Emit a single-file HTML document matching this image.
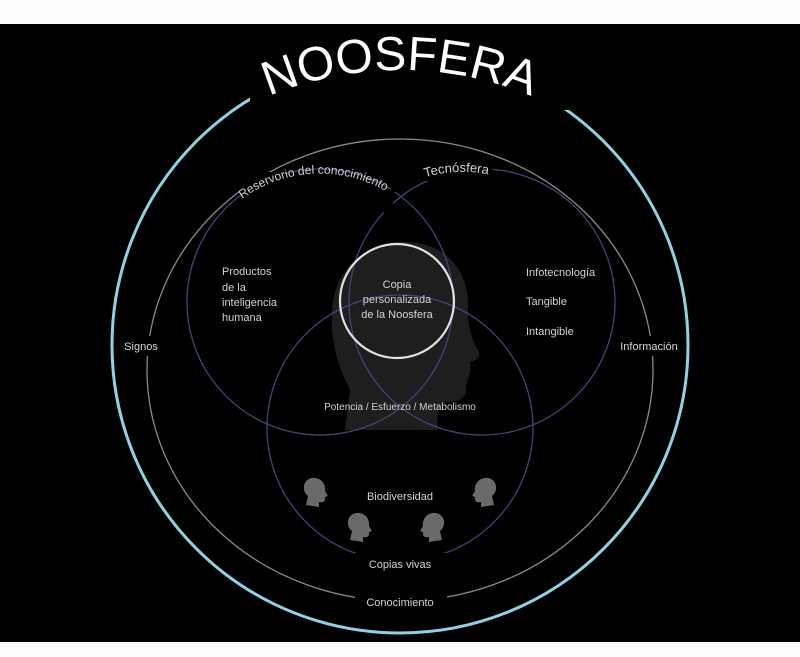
<!DOCTYPE html>
<html><head><meta charset="utf-8"><style>
html,body{margin:0;padding:0;background:#fff;}
svg{display:block;}
text{font-family:"Liberation Sans","DejaVu Sans",sans-serif;fill:#d4d4d4;}
</style></head><body>
<svg width="800" height="657" viewBox="0 0 800 657" xmlns="http://www.w3.org/2000/svg">
<rect x="0" y="0" width="800" height="657" fill="#fbfbfb"/>
<rect x="0" y="24" width="800" height="618" fill="#000"/>
<defs>
<path id="tarc" d="M 240 110 A 340 340 0 0 1 560 110"/>
<path id="rarc" d="M 215 225 A 133 133 0 0 1 425 225"/>
<path id="tarc2" d="M 405 185 A 133 133 0 0 1 520 185"/>
</defs>
<path d="M 345 430 L 350 390 C 340 370 330 345 332 310 C 335 265 370 240 410 242 C 450 245 470 275 468 310 C 468 325 470 335 478 350 C 482 358 476 360 470 362 C 472 372 468 378 466 385 C 468 395 462 402 450 402 C 440 402 436 410 438 430 Z" fill="#1e1e1e"/>
<ellipse cx="400" cy="345" rx="288" ry="288" fill="none" stroke="#8fd3e3" stroke-width="3"/>
<rect x="250" y="40" width="320" height="70" fill="#000"/>
<ellipse cx="400" cy="370" rx="253" ry="231" fill="none" stroke="#8a8a8a" stroke-width="1.3"/>
<circle cx="320" cy="302" r="133" fill="none" stroke="#4b3f78" stroke-width="1.3"/>
<circle cx="482" cy="302" r="133" fill="none" stroke="#4b3f78" stroke-width="1.3"/>
<circle cx="400" cy="428" r="133" fill="none" stroke="#4b3f78" stroke-width="1.3"/>
<circle cx="397" cy="301" r="57" fill="none" stroke="#e0e0e0" stroke-width="2.2"/>
<rect x="116" y="336" width="52" height="20" fill="#000"/>
<rect x="612" y="336" width="74" height="20" fill="#000"/>
<rect x="355" y="590" width="92" height="22" fill="#000"/>
<rect x="355" y="553" width="92" height="20" fill="#000"/>
<rect x="228" y="178" width="166" height="24" fill="#000" transform="rotate(8 311 190)"/>
<rect x="420" y="162" width="72" height="22" fill="#000" transform="rotate(6 456 173)"/>
<g fill="#6a6a6a">
<path d="M 306 505 L 308 496 C 302 492 302 480 312 478 C 320 477 326 483 325 491 L 328 496 L 325 497 C 326 502 322 503 319 502 L 319 507 Z"/>
<path d="M 494 505 L 492 496 C 498 492 498 480 488 478 C 480 477 474 483 475 491 L 472 496 L 475 497 C 474 502 478 503 481 502 L 481 507 Z"/>
<path d="M 350 540 L 352 531 C 346 527 346 515 356 513 C 364 512 370 518 369 526 L 372 531 L 369 532 C 370 537 366 538 363 537 L 363 542 Z"/>
<path d="M 442 540 L 440 531 C 446 527 446 515 436 513 C 428 512 422 518 423 526 L 420 531 L 423 532 C 422 537 426 538 429 537 L 429 542 Z"/>
</g>
<text font-size="48" style="fill:#fff"><textPath href="#tarc" startOffset="50%" text-anchor="middle">NOOSFERA</textPath></text>
<text font-size="12"><textPath href="#rarc" startOffset="47%" text-anchor="middle">Reservorio del conocimiento</textPath></text>
<text font-size="13"><textPath href="#tarc2" startOffset="45%" text-anchor="middle">Tecnósfera</textPath></text>
<g font-size="11">
<text x="222" y="275">Productos</text>
<text x="222" y="291">de la</text>
<text x="222" y="306">inteligencia</text>
<text x="222" y="321">humana</text>
<text x="526" y="276">Infotecnología</text>
<text x="526" y="305">Tangible</text>
<text x="526" y="335">Intangible</text>
<text x="141" y="350" text-anchor="middle">Signos</text>
<text x="649" y="350" text-anchor="middle">Información</text>
<text x="397" y="288" text-anchor="middle">Copia</text>
<text x="397" y="303" text-anchor="middle">personalizada</text>
<text x="397" y="318" text-anchor="middle">de la Noosfera</text>
<text x="400" y="500" text-anchor="middle">Biodiversidad</text>
<text x="400" y="606" text-anchor="middle">Conocimiento</text>
</g>
<text x="400" y="410" font-size="10" text-anchor="middle">Potencia / Esfuerzo / Metabolismo</text>
<text x="400" y="568" font-size="11" text-anchor="middle">Copias vivas</text>
</svg>
</body></html>
